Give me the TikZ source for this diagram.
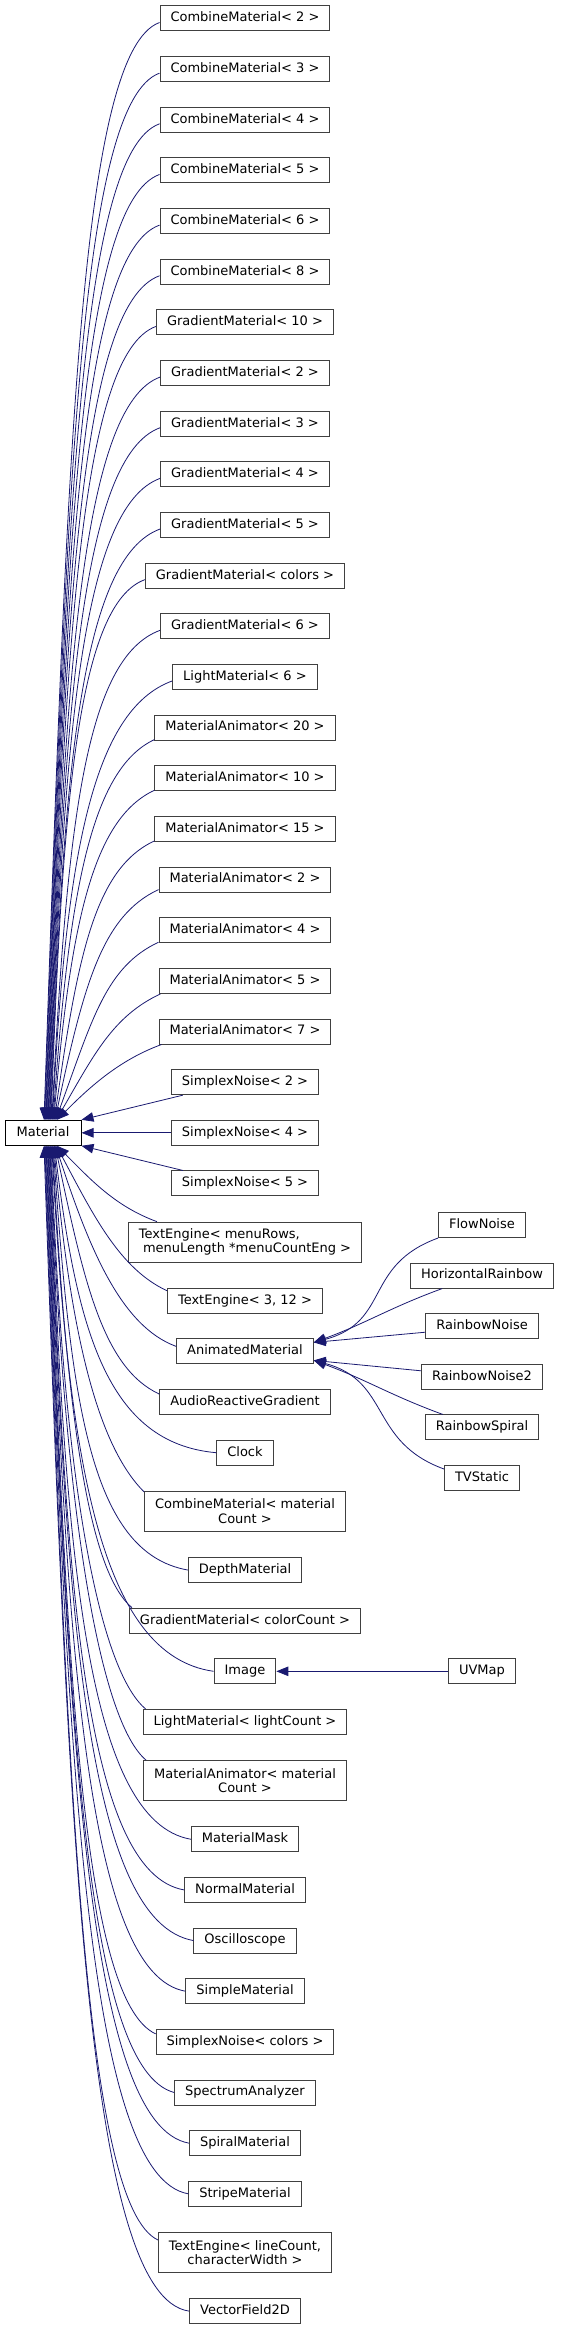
\documentclass[tikz,border=0pt]{standalone}
\usepackage{fontspec}
\setmainfont{DejaVu Sans}
\usepackage{tikz}
\usetikzlibrary{arrows.meta,positioning}
\usepackage{xcolor}
\definecolor{edgeblue}{HTML}{191970}
\definecolor{boxgray}{HTML}{404040}

\begin{document}
\begin{tikzpicture}[x=1pt, y=1pt,
  clsbase/.style={rectangle, draw=boxgray, line width=1pt, fill=white, inner xsep=10.5pt, inner ysep=2pt,
    font=\fontsize{13}{14.5}\selectfont},
  cls/.style={clsbase, minimum height=25pt, text height=9.5pt, text depth=2.8pt},
  twoline/.style={clsbase, minimum height=40pt, align=center},
  inh/.style={-{Triangle[length=12pt, width=9.5pt]}, line width=0.8pt, edgeblue}
]
  \useasboundingbox (0,0) rectangle (560,-2331);

  % base class
  \node[cls, draw=black, minimum width=76pt] (mat) at (43,-1132.8) {Material};

  % derived classes
  \node[cls] (cm2) at (245,-18.5) {CombineMaterial< 2 >};
  \node[cls] (cm3) at (245,-69.15) {CombineMaterial< 3 >};
  \node[cls] (cm4) at (245,-119.8) {CombineMaterial< 4 >};
  \node[cls] (cm5) at (245,-170.45) {CombineMaterial< 5 >};
  \node[cls] (cm6) at (245,-221.1) {CombineMaterial< 6 >};
  \node[cls] (cm8) at (245,-271.75) {CombineMaterial< 8 >};
  \node[cls] (gm10) at (245,-322.4) {GradientMaterial< 10 >};
  \node[cls] (gm2) at (245,-373.05) {GradientMaterial< 2 >};
  \node[cls] (gm3) at (245,-423.7) {GradientMaterial< 3 >};
  \node[cls] (gm4) at (245,-474.35) {GradientMaterial< 4 >};
  \node[cls] (gm5) at (245,-525) {GradientMaterial< 5 >};
  \node[cls] (gmcol) at (245,-575.65) {GradientMaterial< colors >};
  \node[cls] (gm6) at (245,-626.3) {GradientMaterial< 6 >};
  \node[cls] (lm6) at (245,-676.95) {LightMaterial< 6 >};
  \node[cls] (ma20) at (245,-727.6) {MaterialAnimator< 20 >};
  \node[cls] (ma10) at (245,-778.25) {MaterialAnimator< 10 >};
  \node[cls] (ma15) at (245,-828.9) {MaterialAnimator< 15 >};
  \node[cls] (ma2) at (245,-879.55) {MaterialAnimator< 2 >};
  \node[cls] (ma4) at (245,-930.2) {MaterialAnimator< 4 >};
  \node[cls] (ma5) at (245,-980.85) {MaterialAnimator< 5 >};
  \node[cls] (ma7) at (245,-1031.5) {MaterialAnimator< 7 >};
  \node[cls] (sn2) at (245,-1082.15) {SimplexNoise< 2 >};
  \node[cls] (sn4) at (245,-1132.8) {SimplexNoise< 4 >};
  \node[cls] (sn5) at (245,-1183.45) {SimplexNoise< 5 >};
  \node[twoline, align=left] (temenu) at (245,-1242.1) {TextEngine< menuRows,\\\ menuLength *menuCountEng >};
  \node[cls] (te312) at (245,-1300.75) {TextEngine< 3, 12 >};
  \node[cls] (anim) at (245,-1351.4) {AnimatedMaterial};
  \node[cls] (audio) at (245,-1402.05) {AudioReactiveGradient};
  \node[cls] (clock) at (245,-1452.7) {Clock};
  \node[twoline] (cmcount) at (245,-1511.35) {CombineMaterial< material\\Count >};
  \node[cls] (depth) at (245,-1570) {DepthMaterial};
  \node[cls] (gmcount) at (245,-1620.65) {GradientMaterial< colorCount >};
  \node[cls] (image) at (245,-1671.3) {Image};
  \node[cls] (lmcount) at (245,-1721.95) {LightMaterial< lightCount >};
  \node[twoline] (macount) at (245,-1780.6) {MaterialAnimator< material\\Count >};
  \node[cls] (mask) at (245,-1839.25) {MaterialMask};
  \node[cls] (normal) at (245,-1889.9) {NormalMaterial};
  \node[cls] (osc) at (245,-1940.55) {Oscilloscope};
  \node[cls] (simple) at (245,-1991.2) {SimpleMaterial};
  \node[cls] (sncol) at (245,-2041.85) {SimplexNoise< colors >};
  \node[cls] (spectrum) at (245,-2092.5) {SpectrumAnalyzer};
  \node[cls] (spiral) at (245,-2143.15) {SpiralMaterial};
  \node[cls] (stripe) at (245,-2193.8) {StripeMaterial};
  \node[twoline] (teline) at (245,-2252.45) {TextEngine< lineCount,\\characterWidth >};
  \node[cls] (vf2d) at (245,-2311.1) {VectorField2D};

  % second level
  \node[cls] (flow) at (482,-1225) {FlowNoise};
  \node[cls] (hrain) at (482,-1275.6) {HorizontalRainbow};
  \node[cls] (rnoise) at (482,-1326.2) {RainbowNoise};
  \node[cls] (rnoise2) at (482,-1376.8) {RainbowNoise2};
  \node[cls] (rspiral) at (482,-1427.4) {RainbowSpiral};
  \node[cls] (tvstatic) at (482,-1478) {TVStatic};
  \node[cls] (uvmap) at (482,-1671.3) {UVMap};

  % edges above Material (curve, then a short straight piece for the tip)
  \draw[inh] ([yshift=-4pt]cm2.west) .. controls ([yshift=-4pt, shift={(200:85)}]cm2.west) and ([xshift=1pt, shift={(88:660)}]mat.north) .. ([xshift=1pt, shift={(88:13)}]mat.north) -- ([xshift=1pt]mat.north);
  \draw[inh] ([yshift=-4pt]cm3.west) .. controls ([yshift=-4pt, shift={(200:85)}]cm3.west) and ([xshift=1.6pt, shift={(88:630)}]mat.north) .. ([xshift=1.6pt, shift={(88:13)}]mat.north) -- ([xshift=1.6pt]mat.north);
  \draw[inh] ([yshift=-4pt]cm4.west) .. controls ([yshift=-4pt, shift={(200:85)}]cm4.west) and ([xshift=2.3pt, shift={(88:600)}]mat.north) .. ([xshift=2.3pt, shift={(88:13)}]mat.north) -- ([xshift=2.3pt]mat.north);
  \draw[inh] ([yshift=-4pt]cm5.west) .. controls ([yshift=-4pt, shift={(200:85)}]cm5.west) and ([xshift=2.9pt, shift={(88:570)}]mat.north) .. ([xshift=2.9pt, shift={(88:13)}]mat.north) -- ([xshift=2.9pt]mat.north);
  \draw[inh] ([yshift=-4pt]cm6.west) .. controls ([yshift=-4pt, shift={(200:85)}]cm6.west) and ([xshift=3.6pt, shift={(88:540)}]mat.north) .. ([xshift=3.6pt, shift={(88:13)}]mat.north) -- ([xshift=3.6pt]mat.north);
  \draw[inh] ([yshift=-4pt]cm8.west) .. controls ([yshift=-4pt, shift={(200:85)}]cm8.west) and ([xshift=4.2pt, shift={(88:508)}]mat.north) .. ([xshift=4.2pt, shift={(88:13)}]mat.north) -- ([xshift=4.2pt]mat.north);
  \draw[inh] ([yshift=-4pt]gm10.west) .. controls ([yshift=-4pt, shift={(200:80)}]gm10.west) and ([xshift=4.9pt, shift={(88:478)}]mat.north) .. ([xshift=4.9pt, shift={(88:13)}]mat.north) -- ([xshift=4.9pt]mat.north);
  \draw[inh] ([yshift=-4pt]gm2.west) .. controls ([yshift=-4pt, shift={(200:83)}]gm2.west) and ([xshift=5.5pt, shift={(88:447)}]mat.north) .. ([xshift=5.5pt, shift={(88:13)}]mat.north) -- ([xshift=5.5pt]mat.north);
  \draw[inh] ([yshift=-4pt]gm3.west) .. controls ([yshift=-4pt, shift={(200:83)}]gm3.west) and ([xshift=6.2pt, shift={(88:416)}]mat.north) .. ([xshift=6.2pt, shift={(88:13)}]mat.north) -- ([xshift=6.2pt]mat.north);
  \draw[inh] ([yshift=-4pt]gm4.west) .. controls ([yshift=-4pt, shift={(200:83)}]gm4.west) and ([xshift=6.8pt, shift={(88:386)}]mat.north) .. ([xshift=6.8pt, shift={(88:13)}]mat.north) -- ([xshift=6.8pt]mat.north);
  \draw[inh] ([yshift=-4pt]gm5.west) .. controls ([yshift=-4pt, shift={(200:83)}]gm5.west) and ([xshift=7.5pt, shift={(88:355)}]mat.north) .. ([xshift=7.5pt, shift={(88:13)}]mat.north) -- ([xshift=7.5pt]mat.north);
  \draw[inh] ([yshift=-4pt]gmcol.west) .. controls ([yshift=-4pt, shift={(200:70)}]gmcol.west) and ([xshift=8.1pt, shift={(88:325)}]mat.north) .. ([xshift=8.1pt, shift={(88:13)}]mat.north) -- ([xshift=8.1pt]mat.north);
  \draw[inh] ([yshift=-4pt]gm6.west) .. controls ([yshift=-4pt, shift={(200:80)}]gm6.west) and ([xshift=8.8pt, shift={(87:295)}]mat.north) .. ([xshift=8.8pt, shift={(87:13)}]mat.north) -- ([xshift=8.8pt]mat.north);
  \draw[inh] ([yshift=-4pt]lm6.west) .. controls ([yshift=-4pt, shift={(200:85)}]lm6.west) and ([xshift=9.4pt, shift={(87:264)}]mat.north) .. ([xshift=9.4pt, shift={(87:13)}]mat.north) -- ([xshift=9.4pt]mat.north);
  \draw[inh] ([yshift=1pt]ma20.south west) .. controls ([yshift=1pt, shift={(205:70)}]ma20.south west) and ([xshift=10.1pt, shift={(86:228)}]mat.north) .. ([xshift=10.1pt, shift={(86:13)}]mat.north) -- ([xshift=10.1pt]mat.north);
  \draw[inh] ([yshift=1pt]ma10.south west) .. controls ([yshift=1pt, shift={(205:68)}]ma10.south west) and ([xshift=10.7pt, shift={(85:198)}]mat.north) .. ([xshift=10.7pt, shift={(85:13)}]mat.north) -- ([xshift=10.7pt]mat.north);
  \draw[inh] ([yshift=1pt]ma15.south west) .. controls ([yshift=1pt, shift={(205:65)}]ma15.south west) and ([xshift=11.4pt, shift={(82:168)}]mat.north) .. ([xshift=11.4pt, shift={(82:13)}]mat.north) -- ([xshift=11.4pt]mat.north);
  \draw[inh] ([yshift=3pt]ma2.south west) .. controls ([yshift=3pt, shift={(205:62)}]ma2.south west) and ([xshift=12pt, shift={(78:139)}]mat.north) .. ([xshift=12pt, shift={(78:13)}]mat.north) -- ([xshift=12pt]mat.north);
  \draw[inh] ([yshift=1pt]ma4.south west) .. controls ([yshift=1pt, shift={(205:58)}]ma4.south west) and ([xshift=12.7pt, shift={(70:107)}]mat.north) .. ([xshift=12.7pt, shift={(70:13)}]mat.north) -- ([xshift=12.7pt]mat.north);
  \draw[inh] ([xshift=2pt]ma5.south west) .. controls ([xshift=2pt, shift={(205:52)}]ma5.south west) and ([xshift=13.3pt, shift={(60:76)}]mat.north) .. ([xshift=13.3pt, shift={(60:13)}]mat.north) -- ([xshift=13.3pt]mat.north);
  \draw[inh] ([xshift=3pt]ma7.south west) .. controls ([xshift=3pt, shift={(200:45)}]ma7.south west) and ([xshift=14pt, shift={(45:46)}]mat.north) .. ([xshift=14pt, shift={(45:13)}]mat.north) -- ([xshift=14pt]mat.north);

  % edges beside Material
  \draw[inh] ([xshift=12pt]sn2.south west) -- (mat.north east);
  \draw[inh] (sn4) -- (mat);
  \draw[inh] ([xshift=12pt]sn5.north west) -- (mat.south east);

  % edges below Material
  \draw[inh] ([xshift=29pt]temenu.north west) .. controls ([xshift=29pt, shift={(160:45)}]temenu.north west) and ([xshift=14pt, shift={(-45:46)}]mat.south) .. ([xshift=14pt, shift={(-45:13)}]mat.south) -- ([xshift=14pt]mat.south);
  \draw[inh] ([yshift=-3pt]te312.north west) .. controls ([yshift=-3pt, shift={(155:52)}]te312.north west) and ([xshift=13.4pt, shift={(-62:80)}]mat.south) .. ([xshift=13.4pt, shift={(-62:13)}]mat.south) -- ([xshift=13.4pt]mat.south);
  \draw[inh] ([yshift=5pt]anim.west) .. controls ([yshift=5pt, shift={(160:58)}]anim.west) and ([xshift=12.7pt, shift={(-72:110)}]mat.south) .. ([xshift=12.7pt, shift={(-72:13)}]mat.south) -- ([xshift=12.7pt]mat.south);
  \draw[inh] ([yshift=-5pt]audio.north west) .. controls ([yshift=-5pt, shift={(155:62)}]audio.north west) and ([xshift=12.1pt, shift={(-78:140)}]mat.south) .. ([xshift=12.1pt, shift={(-78:13)}]mat.south) -- ([xshift=12.1pt]mat.south);
  \draw[inh] (clock.west) .. controls ([shift={(175:110)}]clock.west) and ([xshift=11.4pt, shift={(-83:185)}]mat.south) .. ([xshift=11.4pt, shift={(-83:13)}]mat.south) -- ([xshift=11.4pt]mat.south);
  \draw[inh] ([yshift=-1pt]cmcount.north west) .. controls ([yshift=-1pt, shift={(135:60)}]cmcount.north west) and ([xshift=10.8pt, shift={(-85:205)}]mat.south) .. ([xshift=10.8pt, shift={(-85:13)}]mat.south) -- ([xshift=10.8pt]mat.south);
  \draw[inh] (depth.west) .. controls ([shift={(170:100)}]depth.west) and ([xshift=10.1pt, shift={(-86:255)}]mat.south) .. ([xshift=10.1pt, shift={(-86:13)}]mat.south) -- ([xshift=10.1pt]mat.south);
  \draw[inh] ([xshift=3pt]gmcount.north west) .. controls ([xshift=3pt, shift={(140:55)}]gmcount.north west) and ([xshift=9.5pt, shift={(-87:280)}]mat.south) .. ([xshift=9.5pt, shift={(-87:13)}]mat.south) -- ([xshift=9.5pt]mat.south);
  \draw[inh] (image.west) .. controls ([shift={(172:115)}]image.west) and ([xshift=8.8pt, shift={(-87:315)}]mat.south) .. ([xshift=8.8pt, shift={(-87:13)}]mat.south) -- ([xshift=8.8pt]mat.south);
  \draw[inh] ([xshift=3pt]lmcount.north west) .. controls ([xshift=3pt, shift={(140:60)}]lmcount.north west) and ([xshift=8.2pt, shift={(-88:340)}]mat.south) .. ([xshift=8.2pt, shift={(-88:13)}]mat.south) -- ([xshift=8.2pt]mat.south);
  \draw[inh] ([xshift=3pt]macount.north west) .. controls ([xshift=3pt, shift={(140:60)}]macount.north west) and ([xshift=7.5pt, shift={(-88:370)}]mat.south) .. ([xshift=7.5pt, shift={(-88:13)}]mat.south) -- ([xshift=7.5pt]mat.south);
  \draw[inh] (mask.west) .. controls ([shift={(170:105)}]mask.west) and ([xshift=6.9pt, shift={(-88:415)}]mat.south) .. ([xshift=6.9pt, shift={(-88:13)}]mat.south) -- ([xshift=6.9pt]mat.south);
  \draw[inh] (normal.west) .. controls ([shift={(170:100)}]normal.west) and ([xshift=6.2pt, shift={(-88:446)}]mat.south) .. ([xshift=6.2pt, shift={(-88:13)}]mat.south) -- ([xshift=6.2pt]mat.south);
  \draw[inh] (osc.west) .. controls ([shift={(170:107)}]osc.west) and ([xshift=5.6pt, shift={(-88:477)}]mat.south) .. ([xshift=5.6pt, shift={(-88:13)}]mat.south) -- ([xshift=5.6pt]mat.south);
  \draw[inh] (simple.west) .. controls ([shift={(170:100)}]simple.west) and ([xshift=4.9pt, shift={(-88:507)}]mat.south) .. ([xshift=4.9pt, shift={(-88:13)}]mat.south) -- ([xshift=4.9pt]mat.south);
  \draw[inh] ([yshift=-5pt]sncol.north west) .. controls ([yshift=-5pt, shift={(155:80)}]sncol.north west) and ([xshift=4.3pt, shift={(-88:533)}]mat.south) .. ([xshift=4.3pt, shift={(-88:13)}]mat.south) -- ([xshift=4.3pt]mat.south);
  \draw[inh] (spectrum.west) .. controls ([shift={(165:92)}]spectrum.west) and ([xshift=3.6pt, shift={(-88:568)}]mat.south) .. ([xshift=3.6pt, shift={(-88:13)}]mat.south) -- ([xshift=3.6pt]mat.south);
  \draw[inh] (spiral.west) .. controls ([shift={(170:102)}]spiral.west) and ([xshift=3pt, shift={(-88:600)}]mat.south) .. ([xshift=3pt, shift={(-88:13)}]mat.south) -- ([xshift=3pt]mat.south);
  \draw[inh] (stripe.west) .. controls ([shift={(170:102)}]stripe.west) and ([xshift=2.3pt, shift={(-88:630)}]mat.south) .. ([xshift=2.3pt, shift={(-88:13)}]mat.south) -- ([xshift=2.3pt]mat.south);
  \draw[inh] ([yshift=-8pt]teline.north west) .. controls ([yshift=-8pt, shift={(155:80)}]teline.north west) and ([xshift=1.7pt, shift={(-88:657)}]mat.south) .. ([xshift=1.7pt, shift={(-88:13)}]mat.south) -- ([xshift=1.7pt]mat.south);
  \draw[inh] (vf2d.west) .. controls ([shift={(172:102)}]vf2d.west) and ([xshift=1pt, shift={(-88:700)}]mat.south) .. ([xshift=1pt, shift={(-88:13)}]mat.south) -- ([xshift=1pt]mat.south);

  % second level edges
  \draw[inh] (flow.south west) .. controls ([shift={(200:80)}]flow.south west) and ([yshift=9pt, shift={(15:80)}]anim.east) .. ([yshift=9pt]anim.east);
  \draw[inh] ([xshift=32pt]hrain.south west) .. controls ([xshift=32pt, shift={(200:55)}]hrain.south west) and ([yshift=9pt, shift={(20:55)}]anim.east) .. ([yshift=9pt]anim.east);
  \draw[inh] ([yshift=-6pt]rnoise.west) -- ([yshift=9pt]anim.east);
  \draw[inh] ([yshift=6pt]rnoise2.west) -- ([yshift=-9pt]anim.east);
  \draw[inh] ([xshift=18pt]rspiral.north west) .. controls ([xshift=18pt, shift={(160:55)}]rspiral.north west) and ([yshift=-9pt, shift={(-20:55)}]anim.east) .. ([yshift=-9pt]anim.east);
  \draw[inh] ([yshift=-4pt]tvstatic.north west) .. controls ([yshift=-4pt, shift={(160:80)}]tvstatic.north west) and ([yshift=-9pt, shift={(-15:80)}]anim.east) .. ([yshift=-9pt]anim.east);
  \draw[inh] (uvmap) -- (image);
\end{tikzpicture}
\end{document}
